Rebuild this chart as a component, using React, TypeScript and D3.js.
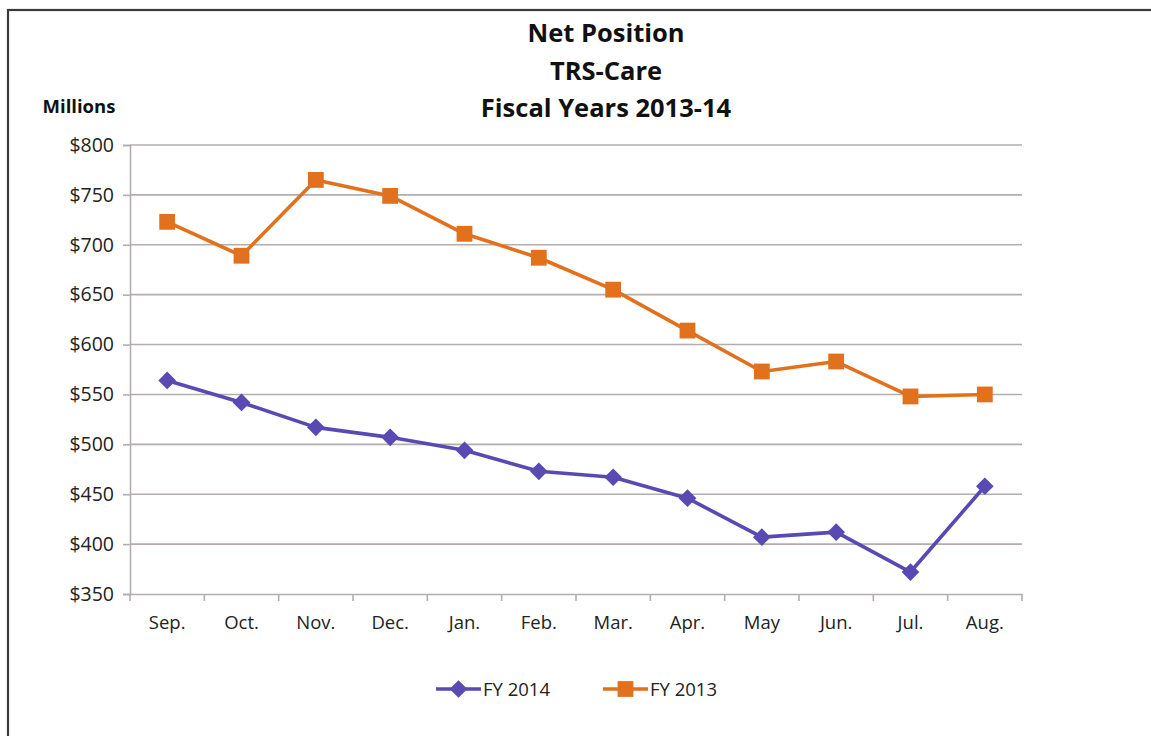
import React, { useRef, useEffect } from 'react';
import * as d3 from 'd3';

const months = ['Sep.', 'Oct.', 'Nov.', 'Dec.', 'Jan.', 'Feb.', 'Mar.', 'Apr.', 'May', 'Jun.', 'Jul.', 'Aug.'];
const fy2014 = [564, 542, 517, 507, 494, 473, 467, 446, 407, 412, 372, 458];
const fy2013 = [723, 689, 765, 749, 711, 687, 655, 614, 573, 583, 548, 550];
const yTicks = [350, 400, 450, 500, 550, 600, 650, 700, 750, 800];
const titleLines = ['Net Position', 'TRS-Care', 'Fiscal Years 2013-14'];

const PURPLE = '#5849B3';
const ORANGE = '#E2711D';
const GRID = '#B5ADAD';
const FONT = "'Open Sans', 'Noto Sans', sans-serif";

const App = () => {
  const svgRef = useRef<SVGSVGElement>(null);

  useEffect(() => {
    const svg = d3.select(svgRef.current);
    svg.selectAll('*').remove();

    const W = 1151, H = 736;
    const margin = { top: 145, right: 129, bottom: 142, left: 130 };
    const width = W - margin.left - margin.right;
    const height = H - margin.top - margin.bottom;

    svg.append('rect').attr('width', W).attr('height', H).attr('fill', '#fff');
    // frame (only top and left edges are visible in the crop)
    svg.append('rect')
      .attr('x', 8).attr('y', 10).attr('width', 1160).attr('height', 760)
      .attr('fill', 'none').attr('stroke', '#3a3a3a').attr('stroke-width', 2.2);

    // titles
    svg.selectAll('.title')
      .data(titleLines)
      .enter().append('text')
      .attr('x', 606)
      .attr('y', (d, i) => 42 + i * 37.5)
      .attr('text-anchor', 'middle')
      .attr('font-family', FONT)
      .attr('font-weight', 'bold')
      .attr('font-size', 25.5)
      .attr('fill', '#111')
      .text(d => d);

    svg.append('text')
      .attr('x', 79).attr('y', 113)
      .attr('text-anchor', 'middle')
      .attr('font-family', FONT).attr('font-weight', 'bold').attr('font-size', 18.5)
      .attr('fill', '#111')
      .text('Millions');

    const g = svg.append('g').attr('transform', `translate(${margin.left},${margin.top})`);

    const x = d3.scaleBand().domain(months).range([0, width]);
    const y = d3.scaleLinear().domain([350, 800]).range([height, 0]);

    // gridlines
    g.selectAll('.grid')
      .data(yTicks.slice(1))
      .enter().append('line')
      .attr('x1', 0).attr('x2', width)
      .attr('y1', d => y(d)).attr('y2', d => y(d))
      .attr('stroke', GRID).attr('stroke-width', 1.6);

    // y axis
    const yAxis = g.append('g')
      .call(d3.axisLeft(y).tickValues(yTicks).tickSize(7).tickPadding(9).tickFormat(d => `$${d}`));
    yAxis.select('.domain').attr('stroke', GRID).attr('stroke-width', 1.6);
    yAxis.selectAll('.tick line').attr('stroke', GRID).attr('stroke-width', 1.6);
    yAxis.selectAll('.tick text')
      .attr('font-family', FONT).attr('font-size', 19.5).attr('fill', '#222');

    // x axis
    const xAxis = g.append('g').attr('transform', `translate(0,${height})`)
      .call(d3.axisBottom(x).tickSize(0).tickPadding(22));
    xAxis.select('.domain').attr('stroke', GRID).attr('stroke-width', 1.6);
    xAxis.selectAll('.tick text')
      .attr('font-family', FONT).attr('font-size', 18.5).attr('fill', '#222');
    xAxis.selectAll('.bound')
      .data(d3.range(months.length + 1))
      .enter().append('line')
      .attr('x1', i => i * x.bandwidth()).attr('x2', i => i * x.bandwidth())
      .attr('y1', 0).attr('y2', 7)
      .attr('stroke', GRID).attr('stroke-width', 1.6);

    const cx = (i: number) => (x(months[i]) as number) + x.bandwidth() / 2;
    const line = d3.line<number>().x((d, i) => cx(i)).y(d => y(d));

    const series = [
      { name: 'FY 2014', values: fy2014, color: PURPLE, symbol: d3.symbolDiamond2, size: 200 },
      { name: 'FY 2013', values: fy2013, color: ORANGE, symbol: d3.symbolSquare, size: 250 },
    ];

    series.slice().reverse().forEach(s => {
      g.append('path')
        .datum(s.values)
        .attr('d', line)
        .attr('fill', 'none')
        .attr('stroke', s.color)
        .attr('stroke-width', 3.6)
        .attr('stroke-linejoin', 'round');

      g.selectAll(null)
        .data(s.values)
        .enter().append('path')
        .attr('transform', (d, i) => `translate(${cx(i)},${y(d)})`)
        .attr('d', d3.symbol().type(s.symbol).size(s.size)())
        .attr('fill', s.color);
    });

    // legend
    const legendX = [436, 603];
    series.forEach((s, i) => {
      const lg = svg.append('g').attr('transform', `translate(${legendX[i]},689)`);
      lg.append('line').attr('x1', 0).attr('x2', 45).attr('y1', 0).attr('y2', 0)
        .attr('stroke', s.color).attr('stroke-width', 3.6);
      lg.append('path')
        .attr('transform', 'translate(22.5,0)')
        .attr('d', d3.symbol().type(s.symbol).size(s.size)())
        .attr('fill', s.color);
      lg.append('text')
        .attr('x', 47).attr('y', 7)
        .attr('font-family', FONT).attr('font-size', 18.5).attr('fill', '#222')
        .text(s.name);
    });
  }, []);

  return (
    <svg ref={svgRef} width={1151} height={736}
      style={{ position: 'absolute', left: 0, top: 0, display: 'block' }} />
  );
};

export default App;
